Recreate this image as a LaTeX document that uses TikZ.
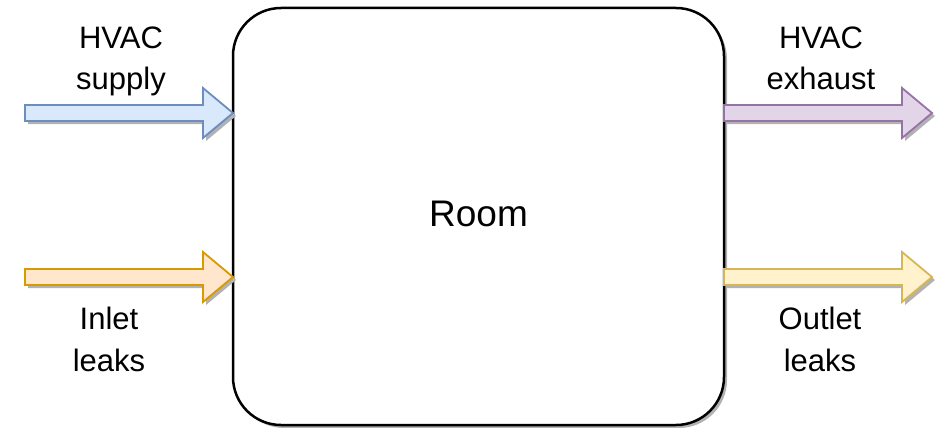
\documentclass[tikz,border=0pt]{standalone}
\usepackage{fontspec}
\setmainfont{Liberation Sans}
\usetikzlibrary{calc,shadows}
\definecolor{bluefill}{HTML}{DAE8FC}
\definecolor{bluedraw}{HTML}{6C8EBF}
\definecolor{orangefill}{HTML}{FFE6CC}
\definecolor{orangedraw}{HTML}{D79B00}
\definecolor{purplefill}{HTML}{E1D5E7}
\definecolor{purpledraw}{HTML}{9673A6}
\definecolor{yellowfill}{HTML}{FFF2CC}
\definecolor{yellowdraw}{HTML}{D6B656}
\tikzset{
  barrow/.style 2 args={insert path={($(#1)+(0,-8)$) -- ($(#2)+(-30,-8)$) -- ($(#2)+(-30,-25)$) -- (#2) -- ($(#2)+(-30,25)$) -- ($(#2)+(-30,8)$) -- ($(#1)+(0,8)$) -- cycle}},
  arrowshadow/.style={fill=black!30, transform canvas={xshift=3pt,yshift=-3pt}},
  arrowline/.style={line width=1.8pt, line join=miter},
  lbl/.style={font=\fontsize{31}{42}\selectfont, align=center, anchor=base, inner sep=0pt},
  roombox/.style={draw, line width=2.5pt, rounded corners=48pt, minimum width=491pt, minimum height=417pt, outer sep=0pt, inner sep=0pt, fill=white, drop shadow={shadow xshift=3pt, shadow yshift=-3pt, fill=black, opacity=0.3}}
}
\begin{document}
\begin{tikzpicture}[x=1pt,y=-1pt]
\useasboundingbox (0,0) rectangle (943,428);
\node[roombox] (room) at (478.5,216.5) {};
\node[font=\fontsize{37}{44}\selectfont, anchor=base, inner sep=0pt] (roomlbl) at (478.5,226.5) {Room};
% coordinates for arrows
\coordinate (supplytail) at (25,113);
\coordinate (supplytip) at (room.west |- supplytail);
\coordinate (inlettail) at (25,277);
\coordinate (inlettip) at (room.west |- inlettail);
\coordinate (exhausttail) at (room.east |- supplytail);
\coordinate (exhausttip) at (932,113);
\coordinate (outlettail) at (room.east |- inlettail);
\coordinate (outlettip) at (932,277);
% shadows
\fill[arrowshadow] [barrow={supplytail}{supplytip}];
\fill[arrowshadow] [barrow={inlettail}{inlettip}];
\fill[arrowshadow] [barrow={exhausttail}{exhausttip}];
\fill[arrowshadow] [barrow={outlettail}{outlettip}];
% arrows
\filldraw[arrowline, fill=bluefill, draw=bluedraw] [barrow={supplytail}{supplytip}];
\filldraw[arrowline, fill=orangefill, draw=orangedraw] [barrow={inlettail}{inlettip}];
\filldraw[arrowline, fill=purplefill, draw=purpledraw] [barrow={exhausttail}{exhausttip}];
\filldraw[arrowline, fill=yellowfill, draw=yellowdraw] [barrow={outlettail}{outlettip}];
% labels (anchor = baseline of the last line)
\node[lbl] (supplylbl) at (121,90) {HVAC\\supply};
\node[lbl] (exhaustlbl) at (821,90) {HVAC\\exhaust};
\node[lbl] (inletlbl) at (109,371) {Inlet\\leaks};
\node[lbl] (outletlbl) at (820,371) {Outlet\\leaks};
\end{tikzpicture}
\end{document}
